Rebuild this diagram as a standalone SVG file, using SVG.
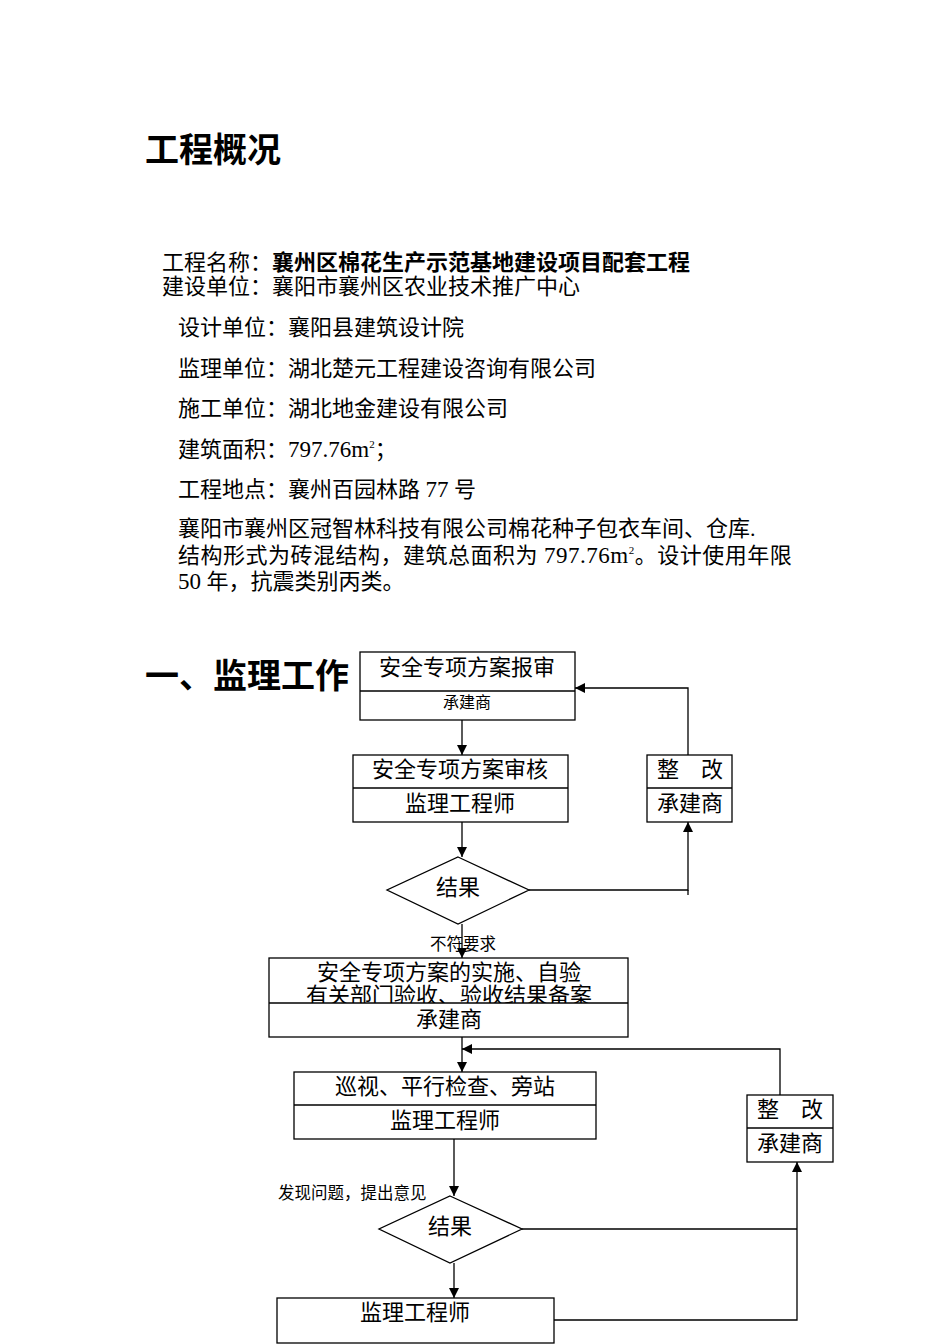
<svg xmlns="http://www.w3.org/2000/svg" width="950" height="1344" viewBox="0 0 950 1344">
<style>
text{font-family:"Liberation Serif","Noto Sans CJK SC",serif;fill:#000}
.h{font-size:34px;font-weight:bold}
.p{font-size:22px}
.b{font-size:22px;text-anchor:middle}
.s{font-size:16.5px}
.sc{font-size:16px;text-anchor:middle}
.box{fill:#fff;stroke:#000;stroke-width:1.3}
.ln{fill:none;stroke:#000;stroke-width:1.3}
.ar{fill:none;stroke:#000;stroke-width:1.3;marker-end:url(#ah)}
</style>
<defs>
<marker id="ah" viewBox="0 0 10 10" refX="10" refY="5" markerWidth="10" markerHeight="10" markerUnits="userSpaceOnUse" orient="auto">
<path d="M0,0 L10,5 L0,10 z" fill="#000"/>
</marker>
<clipPath id="c3"><rect x="269" y="958" width="359" height="45"/></clipPath>
</defs>
<rect width="950" height="1344" fill="#fff"/>

<g id="overview">
<text class="h" x="145" y="162">工程概况</text>
<text class="p" x="162" y="270">工程名称：<tspan font-weight="bold">襄州区棉花生产示范基地建设项目配套工程</tspan></text>
<text class="p" x="162" y="294">建设单位：襄阳市襄州区农业技术推广中心</text>
<text class="p" x="178" y="335">设计单位：襄阳县建筑设计院</text>
<text class="p" x="178" y="376">监理单位：湖北楚元工程建设咨询有限公司</text>
<text class="p" x="178" y="416">施工单位：湖北地金建设有限公司</text>
<text class="p" x="178" y="457">建筑面积：<tspan font-size="23">797.76m</tspan><tspan font-size="11" dy="-9">2</tspan><tspan dy="9">；</tspan></text>
<text class="p" x="178" y="497">工程地点：襄州百园林路 <tspan font-size="23">77</tspan> 号</text>
<text class="p" x="178" y="536">襄阳市襄州区冠智林科技有限公司棉花种子包衣车间、仓库.</text>
<text class="p" x="178" y="563" letter-spacing="0.5">结构形式为砖混结构，建筑总面积为 <tspan font-size="23">797.76m</tspan><tspan font-size="11" dy="-9">2</tspan><tspan dy="9">。设计使用年限</tspan></text>
<text class="p" x="178" y="589"><tspan font-size="23">50</tspan> 年，抗震类别丙类。</text>
<text class="h" x="145" y="688" font-size="35">一、监理工作</text>
</g>

<g id="connectors">
<line class="ar" x1="462" y1="720" x2="462" y2="755"/>
<line class="ar" x1="462" y1="822" x2="462" y2="857"/>
<polyline class="ar" points="529,890 688,890 688,822"/>
<line class="ln" x1="688" y1="890" x2="688" y2="895"/>
<polyline class="ar" points="688,755 688,688 575,688"/>
<line class="ar" x1="462" y1="924" x2="462" y2="958"/>
<line class="ar" x1="462" y1="1037" x2="462" y2="1072"/>
<polyline class="ar" points="780,1095 780,1049 462,1049"/>
<line class="ar" x1="454" y1="1139" x2="454" y2="1196"/>
<line class="ln" x1="522" y1="1229" x2="797" y2="1229"/>
<polyline class="ar" points="554,1320 797,1320 797,1162"/>
<line class="ar" x1="454" y1="1263" x2="454" y2="1298"/>
<text class="s" x="430" y="950">不符要求</text>
<text class="s" x="278" y="1199">发现问题，提出意见</text>
</g>

<g id="n1">
<rect class="box" x="360" y="652" width="215" height="68"/>
<line class="ln" x1="360" y1="691" x2="575" y2="691"/>
<text class="b" x="467" y="675">安全专项方案报审</text>
<text class="sc" x="467" y="708">承建商</text>
</g>

<g id="n2">
<rect class="box" x="353" y="755" width="215" height="67"/>
<line class="ln" x1="353" y1="788" x2="568" y2="788"/>
<text class="b" x="460" y="777">安全专项方案审核</text>
<text class="b" x="460" y="811">监理工程师</text>
</g>

<g id="n3">
<polygon class="box" points="458,857 529,890 458,924 387,890"/>
<text class="b" x="458" y="895">结果</text>
</g>

<g id="n4">
<rect class="box" x="647" y="755" width="85" height="67"/>
<line class="ln" x1="647" y1="788" x2="732" y2="788"/>
<text class="b" x="690" y="777">整　改</text>
<text class="b" x="690" y="811">承建商</text>
</g>

<g id="n5">
<rect class="box" x="269" y="958" width="359" height="79"/>
<line class="ln" x1="269" y1="1003" x2="628" y2="1003"/>
<text class="b" x="449" y="980">安全专项方案的实施、自验</text>
<text class="b" x="449" y="1003" clip-path="url(#c3)">有关部门验收、验收结果备案</text>
<text class="b" x="449" y="1027">承建商</text>
</g>

<g id="n6">
<rect class="box" x="294" y="1072" width="302" height="67"/>
<line class="ln" x1="294" y1="1105" x2="596" y2="1105"/>
<text class="b" x="445" y="1094">巡视、平行检查、旁站</text>
<text class="b" x="445" y="1128">监理工程师</text>
</g>

<g id="n7">
<rect class="box" x="747" y="1095" width="86" height="67"/>
<line class="ln" x1="747" y1="1128" x2="833" y2="1128"/>
<text class="b" x="790" y="1117">整　改</text>
<text class="b" x="790" y="1151">承建商</text>
</g>

<g id="n8">
<polygon class="box" points="450,1196 522,1229 450,1263 379,1229"/>
<text class="b" x="450" y="1234">结果</text>
</g>

<g id="n9">
<rect class="box" x="277" y="1298" width="277" height="45"/>
<text class="b" x="415" y="1320">监理工程师</text>
</g>
</svg>
